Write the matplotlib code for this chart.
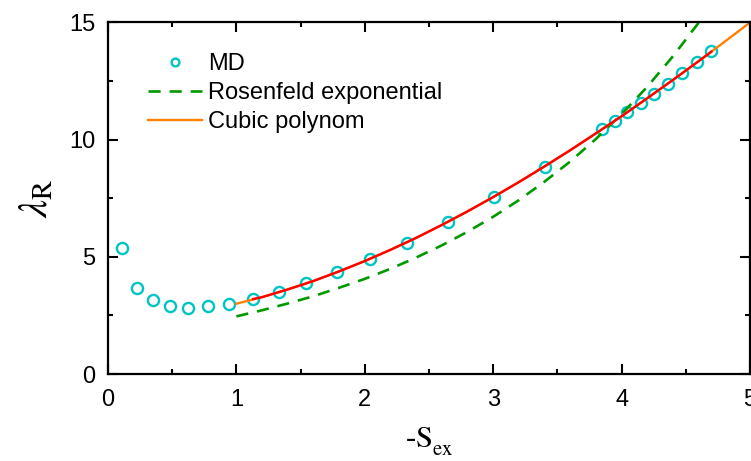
import matplotlib
matplotlib.use("Agg")
import matplotlib.pyplot as plt
from matplotlib.ticker import MultipleLocator

plt.rcParams['font.family'] = ['Liberation Sans', 'DejaVu Sans']
plt.rcParams['mathtext.fontset'] = 'stix'

# MD data points
md_x = [0.107, 0.223, 0.348, 0.483, 0.626, 0.776, 0.945, 1.132, 1.329, 1.542,
        1.783, 2.04, 2.33, 2.65, 3.006, 3.40, 3.85, 3.95, 4.045, 4.15,
        4.25, 4.36, 4.47, 4.585, 4.696]
md_y = [5.36, 3.68, 3.14, 2.90, 2.83, 2.89, 3.00, 3.21, 3.51, 3.87,
        4.34, 4.92, 5.60, 6.47, 7.57, 8.85, 10.46, 10.81, 11.17, 11.55,
        11.96, 12.39, 12.86, 13.32, 13.80]

# Rosenfeld exponential
ros_x = [1.0, 1.2, 1.4, 1.6, 1.8, 2.0, 2.2, 2.4, 2.6, 2.8, 3.0,
         3.2, 3.4, 3.6, 3.8, 4.0, 4.2, 4.4, 4.6, 4.7]
ros_y = [2.46, 2.72, 3.01, 3.32, 3.68, 4.06, 4.49, 4.97, 5.49, 6.07, 6.71,
         7.42, 8.21, 9.07, 10.03, 11.09, 12.26, 13.56, 14.99, 15.75]

# cubic polynom (orange, full range)
cub_x = [1.0, 1.2, 1.4, 1.6, 1.8, 2.0, 2.2, 2.4, 2.6, 2.8, 3.0,
         3.2, 3.4, 3.6, 3.8, 4.0, 4.2, 4.4, 4.6, 4.8, 5.0]
cub_y = [3.00, 3.28, 3.61, 3.97, 4.38, 4.82, 5.30, 5.81, 6.36, 6.94, 7.55,
         8.19, 8.86, 9.55, 10.27, 11.00, 11.77, 12.55, 13.35, 14.17, 15.00]

# red fit over the data range
fit_x = [1.13, 1.2, 1.4, 1.6, 1.8, 2.0, 2.2, 2.4, 2.6, 2.8, 3.0,
         3.2, 3.4, 3.6, 3.8, 4.0, 4.2, 4.4, 4.6, 4.70]
fit_y = [3.20, 3.28, 3.61, 3.97, 4.38, 4.82, 5.30, 5.81, 6.36, 6.94, 7.55,
         8.19, 8.86, 9.55, 10.27, 11.00, 11.77, 12.55, 13.35, 13.76]

fig = plt.figure(figsize=(7.51, 4.61), dpi=100)
ax = fig.add_axes([0.1438, 0.1887, 0.8549, 0.7625])

ax.plot(md_x, md_y, 'o', ms=8, mfc='none', mec='#00C4C4', mew=1.7, label='MD')
ax.plot(ros_x, ros_y, color='#009900', lw=1.9, linestyle=(0, (4.6, 3.4)),
        label='Rosenfeld exponential')
ax.plot(cub_x, cub_y, color='#FF8000', lw=1.7, label='Cubic polynom')
ax.plot(fit_x, fit_y, color='#FF0000', lw=1.7)

ax.set_xlim(0, 5)
ax.set_ylim(0, 15)
ax.xaxis.set_major_locator(MultipleLocator(1))
ax.xaxis.set_minor_locator(MultipleLocator(0.5))
ax.yaxis.set_major_locator(MultipleLocator(5))
ax.yaxis.set_minor_locator(MultipleLocator(2.5))
ax.tick_params(which='both', direction='in', top=True, right=True, width=1.5)
ax.tick_params(which='major', length=7.5, labelsize=17, pad=9)
ax.tick_params(which='minor', length=3.8)
ax.tick_params(axis='x', which='major', pad=11)
for s in ax.spines.values():
    s.set_linewidth(1.6)

# x label: -S with a deep subscript, as in the original
fig.text(0.5752, 0.03, r'-$\mathrm{S}$', fontsize=22, family='Liberation Serif',
         ha='right', va='baseline')
fig.text(0.5752, 0.012, r'$\mathrm{ex}$', fontsize=15,
         ha='left', va='baseline')
ax.set_ylabel(r'$\lambda_\mathrm{R}$', fontsize=29, labelpad=10)

ax.legend(loc='upper left', bbox_to_anchor=(0.062, 0.913), frameon=False,
          fontsize=17, handlelength=2.3, handletextpad=0.25, labelspacing=0.29,
          borderpad=0, borderaxespad=0, markerscale=0.7)

fig.savefig('out.png', dpi=100)
